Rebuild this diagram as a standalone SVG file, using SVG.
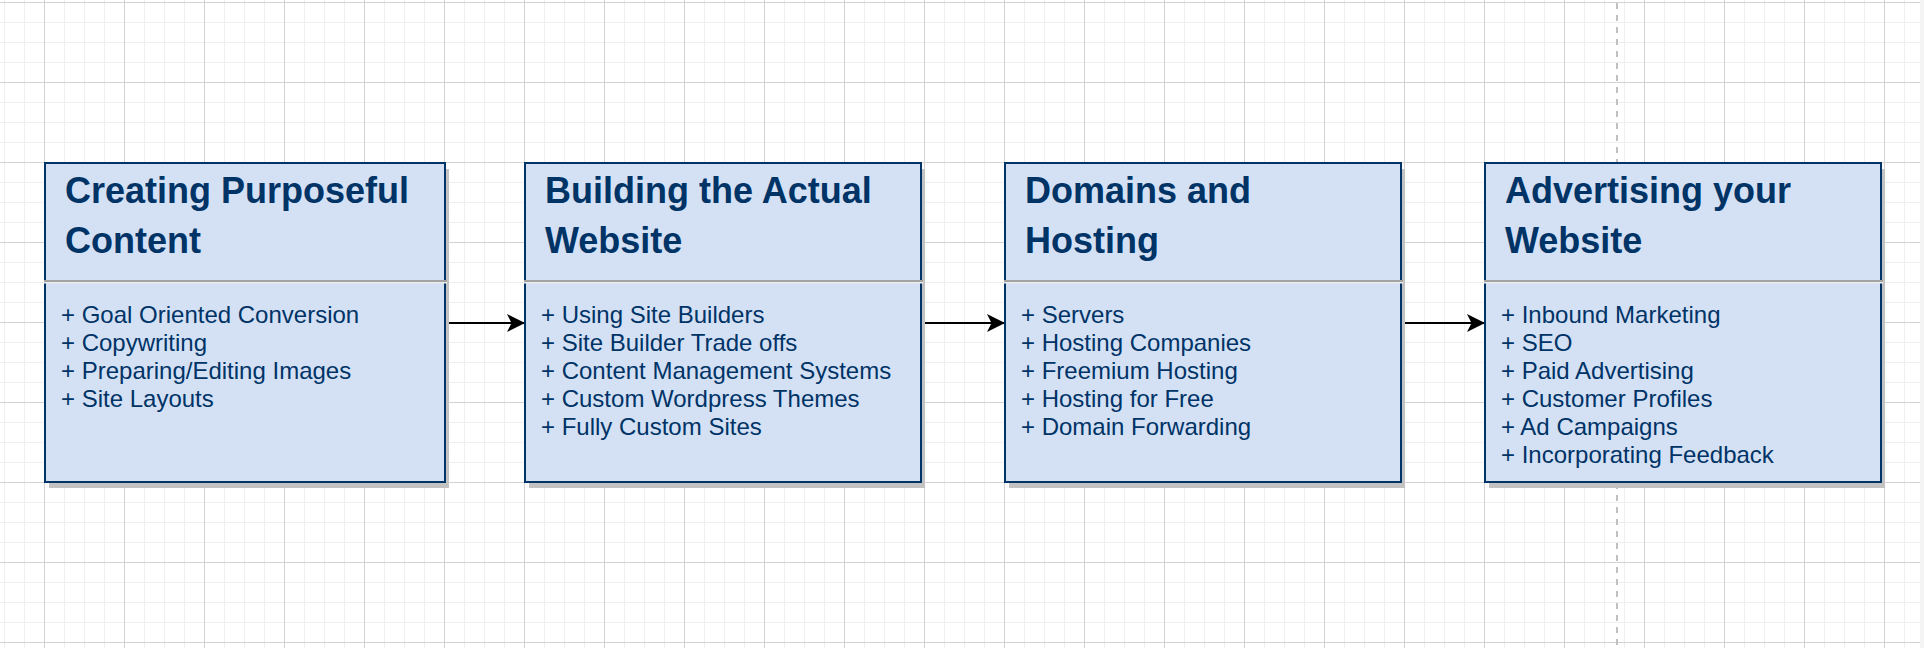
<svg xmlns="http://www.w3.org/2000/svg" width="1924" height="648" viewBox="0 0 1924 648">
  <defs>
    <pattern id="grid" patternUnits="userSpaceOnUse" x="44" y="2" width="80" height="80">
      <rect x="0" y="0" width="80" height="80" fill="#ffffff"/>
      <rect x="20" y="0" width="1" height="80" fill="#efefef"/>
      <rect x="40" y="0" width="1" height="80" fill="#efefef"/>
      <rect x="60" y="0" width="1" height="80" fill="#efefef"/>
      <rect x="0" y="20" width="80" height="1" fill="#efefef"/>
      <rect x="0" y="40" width="80" height="1" fill="#efefef"/>
      <rect x="0" y="60" width="80" height="1" fill="#efefef"/>
      <rect x="0" y="0" width="1" height="80" fill="#d3d3d3"/>
      <rect x="0" y="0" width="80" height="1" fill="#d3d3d3"/>
    </pattern>
    <marker id="arrow" viewBox="0 0 18 18" refX="18" refY="9" markerWidth="18" markerHeight="18" markerUnits="userSpaceOnUse" orient="auto">
      <path d="M0,0 L18,9 L0,18 L4.5,9 Z" fill="#000000"/>
    </marker>
  </defs>
  <style>
    .shadow { fill: #c2c2c2; }
    .box { fill: #D4E1F5; stroke: #003366; stroke-width: 2; }
    .div1 { fill: #a3a3a3; }
    .div2 { fill: #ececec; }
    .title { font-family: "Liberation Sans", Arial, sans-serif; font-weight: bold; font-size: 36px; fill: #003366; }
    .body { font-family: "Liberation Sans", Arial, sans-serif; font-size: 24px; fill: #003366; }
    .conn { stroke: #000000; stroke-width: 2; fill: none; }
  </style>

  <rect x="0" y="0" width="1924" height="648" fill="url(#grid)"/>
  <rect x="1920" y="0" width="4" height="648" fill="#f4f4f4"/>
  <line x1="1617" y1="0" x2="1617" y2="648" stroke="#c0c0c0" stroke-width="2" stroke-dasharray="6 6" stroke-dashoffset="9"/>

  <g id="connectors">
    <line class="conn" x1="446" y1="323" x2="525" y2="323" marker-end="url(#arrow)"/>
    <line class="conn" x1="922" y1="323" x2="1005" y2="323" marker-end="url(#arrow)"/>
    <line class="conn" x1="1402" y1="323" x2="1485" y2="323" marker-end="url(#arrow)"/>
  </g>

  <g id="node-creating-content">
    <rect class="shadow" x="49" y="169" width="400" height="319"/>
    <rect class="box" x="45" y="163" width="400" height="319"/>
    <rect class="div1" x="44" y="280" width="403" height="2"/>
    <rect class="div2" x="44" y="282" width="403" height="1.5"/>
    <text class="title" x="65" y="203">Creating Purposeful</text>
    <text class="title" x="65" y="253">Content</text>
    <text class="body" x="61" y="323">+ Goal Oriented Conversion<tspan x="61" dy="28">+ Copywriting</tspan><tspan x="61" dy="28">+ Preparing/Editing Images</tspan><tspan x="61" dy="28">+ Site Layouts</tspan></text>
  </g>

  <g id="node-building-website">
    <rect class="shadow" x="529" y="169" width="396" height="319"/>
    <rect class="box" x="525" y="163" width="396" height="319"/>
    <rect class="div1" x="524" y="280" width="399" height="2"/>
    <rect class="div2" x="524" y="282" width="399" height="1.5"/>
    <text class="title" x="545" y="203">Building the Actual</text>
    <text class="title" x="545" y="253">Website</text>
    <text class="body" x="541" y="323">+ Using Site Builders<tspan x="541" dy="28">+ Site Builder Trade offs</tspan><tspan x="541" dy="28">+ Content Management Systems</tspan><tspan x="541" dy="28">+ Custom Wordpress Themes</tspan><tspan x="541" dy="28">+ Fully Custom Sites</tspan></text>
  </g>

  <g id="node-domains-hosting">
    <rect class="shadow" x="1009" y="169" width="396" height="319"/>
    <rect class="box" x="1005" y="163" width="396" height="319"/>
    <rect class="div1" x="1004" y="280" width="399" height="2"/>
    <rect class="div2" x="1004" y="282" width="399" height="1.5"/>
    <text class="title" x="1025" y="203">Domains and</text>
    <text class="title" x="1025" y="253">Hosting</text>
    <text class="body" x="1021" y="323">+ Servers<tspan x="1021" dy="28">+ Hosting Companies</tspan><tspan x="1021" dy="28">+ Freemium Hosting</tspan><tspan x="1021" dy="28">+ Hosting for Free</tspan><tspan x="1021" dy="28">+ Domain Forwarding</tspan></text>
  </g>

  <g id="node-advertising">
    <rect class="shadow" x="1489" y="169" width="396" height="319"/>
    <rect class="box" x="1485" y="163" width="396" height="319"/>
    <rect class="div1" x="1484" y="280" width="399" height="2"/>
    <rect class="div2" x="1484" y="282" width="399" height="1.5"/>
    <text class="title" x="1505" y="203">Advertising your</text>
    <text class="title" x="1505" y="253">Website</text>
    <text class="body" x="1501" y="323">+ Inbound Marketing<tspan x="1501" dy="28">+ SEO</tspan><tspan x="1501" dy="28">+ Paid Advertising</tspan><tspan x="1501" dy="28">+ Customer Profiles</tspan><tspan x="1501" dy="28">+ Ad Campaigns</tspan><tspan x="1501" dy="28">+ Incorporating Feedback</tspan></text>
  </g>
</svg>
